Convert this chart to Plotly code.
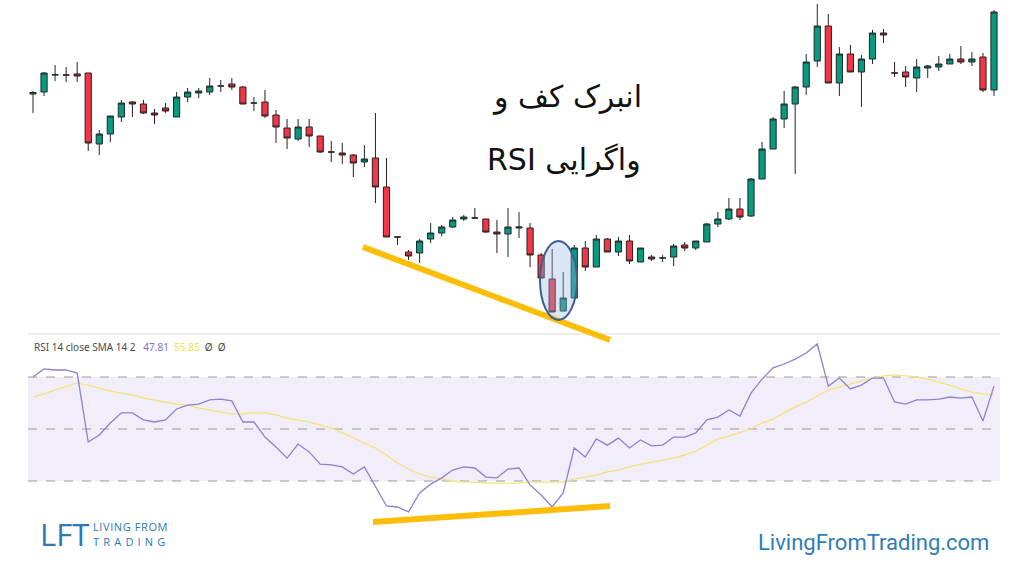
import plotly.graph_objects as go

# Candle index (one bar per session)
bars = list(range(1, 89))

price_open = [
    246, 248, 265, 265, 266, 267, 196, 206, 223, 238,
    236, 227, 232, 223, 243, 247, 248, 254, 256, 253,
    237, 238, 225, 212, 201, 213, 204, 188, 187, 185,
    178, 182, 153, 103, 88, 87, 101, 107, 113, 121,
    122, 121, 108, 106, 112, 112, 85, 61, 29, 42,
    92, 73, 101, 88, 99, 78, 83, 82, 83, 95,
    92, 98, 116, 121, 131, 124, 161, 191, 221, 236,
    253, 279, 314, 257, 286, 268, 281, 307, 267, 268,
    262, 272, 273, 276, 281, 278, 283, 250,
]
price_high = [
    249, 268, 275, 273, 278, 267, 210, 224, 240, 239,
    240, 231, 237, 248, 252, 252, 262, 260, 262, 254,
    243, 250, 230, 221, 221, 221, 204, 199, 197, 186,
    195, 227, 182, 104, 90, 101, 117, 115, 123, 125,
    132, 121, 120, 132, 128, 117, 87, 91, 68, 95,
    99, 105, 102, 103, 105, 92, 85, 85, 96, 98,
    99, 117, 128, 142, 142, 162, 198, 223, 249, 254,
    286, 336, 326, 293, 295, 285, 310, 311, 278, 274,
    281, 275, 284, 286, 294, 288, 287, 330,
]
price_low = [
    227, 244, 259, 258, 258, 189, 185, 198, 218, 223,
    226, 216, 227, 223, 238, 242, 245, 248, 250, 236,
    229, 222, 197, 191, 199, 193, 187, 178, 176, 163,
    173, 137, 103, 95, 80, 77, 97, 104, 112, 119,
    121, 107, 87, 83, 102, 73, 62, 28, 29, 42,
    69, 73, 88, 84, 76, 78, 79, 78, 74, 89,
    90, 98, 113, 120, 120, 123, 161, 191, 212, 166,
    245, 273, 257, 244, 268, 233, 276, 297, 263, 253,
    248, 262, 269, 276, 276, 274, 248, 244,
]
price_close = [
    247.5, 267, 265.3, 265, 264, 197, 206, 224, 237, 236,
    227, 225, 229, 243, 248, 249, 254, 254, 253, 236,
    237, 224, 213, 202, 213, 204, 188, 188, 185, 177,
    181, 153, 103, 103, 84, 99, 107, 113, 120, 123,
    122, 108, 106, 113, 113, 85, 62, 28, 42, 92,
    73, 101, 88, 99, 79, 92, 81, 82, 94, 92,
    99, 116, 121, 131, 123, 161, 191, 221, 236, 253,
    278, 314, 257, 286, 268, 281, 307, 305, 267, 263,
    273, 274, 276, 281, 278, 281, 250, 328,
]

# RSI(14) and its 14-period SMA
rsi = [
    70.0, 73.1, 72.7, 72.7, 71.5, 45.0, 47.7, 52.3, 56.2, 56.2,
    53.5, 52.7, 53.5, 57.7, 59.2, 59.6, 61.2, 61.5, 60.8, 52.7,
    52.7, 46.9, 43.1, 38.8, 44.2, 41.2, 36.5, 36.2, 35.4, 32.7,
    35.4, 27.7, 20.4, 20.0, 18.1, 25.4, 28.8, 31.2, 34.2, 35.4,
    35.0, 31.5, 31.2, 34.6, 35.0, 28.5, 24.6, 20.0, 25.4, 42.7,
    39.2, 46.2, 43.8, 46.5, 42.7, 45.8, 43.5, 43.8, 46.9, 46.9,
    48.5, 53.5, 54.6, 57.3, 55.0, 63.8, 69.2, 73.5, 75.0, 76.9,
    79.2, 82.7, 66.5, 69.6, 65.4, 66.9, 69.6, 69.6, 60.4, 59.6,
    61.2, 61.2, 61.5, 62.3, 61.9, 62.3, 53.1, 66.5,
]
rsi_sma = [
    62.3, 63.5, 65.0, 66.5, 67.7, 66.9, 65.8, 64.6, 63.8, 63.1,
    61.9, 61.2, 60.4, 59.6, 59.2, 58.1, 57.3, 56.5, 55.8, 55.8,
    56.2, 56.2, 55.4, 54.2, 53.5, 52.7, 51.5, 50.4, 48.5, 46.5,
    44.6, 42.7, 40.0, 36.9, 34.6, 32.7, 31.5, 30.8, 30.0, 29.6,
    29.6, 29.2, 29.2, 29.2, 29.2, 29.6, 29.6, 29.6, 29.6, 30.8,
    31.5, 32.3, 33.5, 34.2, 35.4, 36.5, 37.3, 38.1, 38.8, 40.0,
    41.5, 43.8, 46.2, 47.3, 48.8, 50.0, 52.3, 53.8, 56.2, 58.5,
    60.4, 62.7, 65.0, 66.2, 67.3, 68.5, 69.6, 70.4, 70.8, 70.4,
    70.0, 69.2, 68.1, 66.9, 65.4, 64.2, 63.5, 63.1,
]
rsi_levels = [70, 50, 30]

# Hand-drawn divergence lines (bar index, value)
price_support_x = [30.87, 53.24]
price_support_y = [93, 0]
rsi_support_x = [31.78, 53.24]
rsi_support_y = [14.2, 20.4]
# Highlight around the reversal bars
highlight_x = [46.9, 50.25]
highlight_y = [20, 99]

title_line1 = "انبرک کف و"
title_line2 = "\u202bواگرایی RSI\u202c"

W, H = 1024, 576
X_LEFT, X_RIGHT = 28 / W, 1000 / W
X_RANGE = [0.5473, 88.543]

GREEN = "#089981"
RED = "#F23645"
AMBER = "#FDBD08"

fig = go.Figure()

fig.add_trace(go.Candlestick(
    x=bars, open=price_open, high=price_high, low=price_low, close=price_close,
    xaxis="x", yaxis="y", whiskerwidth=0,
    increasing=dict(fillcolor=GREEN, line=dict(color="#1e2a28", width=1)),
    decreasing=dict(fillcolor=RED, line=dict(color="#2a1e20", width=1)),
    showlegend=False, hoverinfo="none",
))

fig.add_trace(go.Scatter(
    x=bars, y=rsi_sma, xaxis="x2", yaxis="y2", mode="lines",
    line=dict(color="#F4E27C", width=1.3), showlegend=False, hoverinfo="skip",
))
fig.add_trace(go.Scatter(
    x=bars, y=rsi, xaxis="x2", yaxis="y2", mode="lines",
    line=dict(color="#8C80D2", width=1.3), showlegend=False, hoverinfo="skip",
))

shapes = []
# RSI background band and level lines
shapes.append(dict(type="rect", xref="paper", yref="y2", x0=X_LEFT, x1=X_RIGHT,
                   y0=rsi_levels[2], y1=rsi_levels[0], fillcolor="rgba(126,87,194,0.10)",
                   line=dict(width=0), layer="below"))
for lvl in rsi_levels:
    shapes.append(dict(type="line", xref="paper", yref="y2", x0=X_LEFT, x1=X_RIGHT,
                       y0=lvl, y1=lvl, line=dict(color="#9a9a9a", width=1, dash="dash"),
                       layer="below"))
# pane separator
shapes.append(dict(type="line", xref="paper", yref="paper", x0=X_LEFT, x1=X_RIGHT,
                   y0=1 - 334 / H, y1=1 - 334 / H, line=dict(color="#ececec", width=2)))
# divergence lines
shapes.append(dict(type="line", xref="x", yref="y",
                   x0=price_support_x[0], x1=price_support_x[1],
                   y0=price_support_y[0], y1=price_support_y[1],
                   line=dict(color=AMBER, width=6)))
shapes.append(dict(type="line", xref="x2", yref="y2",
                   x0=rsi_support_x[0], x1=rsi_support_x[1],
                   y0=rsi_support_y[0], y1=rsi_support_y[1],
                   line=dict(color=AMBER, width=6)))
# highlight ellipse
shapes.append(dict(type="circle", xref="x", yref="y",
                   x0=highlight_x[0], x1=highlight_x[1],
                   y0=highlight_y[0], y1=highlight_y[1],
                   fillcolor="rgba(150,182,225,0.35)", line=dict(color="#3d5f8e", width=2),
                   layer="above"))

BLUE = "#2B79B6"
annotations = [
    dict(text=title_line1, x=567 / W, y=1 - 97 / H, xref="paper", yref="paper",
         showarrow=False, xanchor="center", yanchor="middle",
         font=dict(family="DejaVu Sans", size=30, color="#111111")),
    dict(text=title_line2, x=564 / W, y=1 - 160 / H, xref="paper", yref="paper",
         showarrow=False, xanchor="center", yanchor="middle",
         font=dict(family="DejaVu Sans", size=30, color="#111111")),
    dict(text=("RSI 14 close SMA 14 2\u00a0\u00a0\u00a0"
               "<span style='color:#7E70C8'>47.81</span>\u00a0\u00a0"
               "<span style='color:#F5DE52'>55.85</span>\u00a0\u00a0"
               "Ø\u00a0\u00a0Ø"),
         x=32 / W, y=1 - 347 / H, xref="paper", yref="paper", showarrow=False,
         xanchor="left", yanchor="middle",
         font=dict(family="Noto Sans", size=10, color="#4a4a4a")),
    dict(text="LFT", x=38 / W, y=1 - 534 / H, xref="paper", yref="paper",
         showarrow=False, xanchor="left", yanchor="middle",
         font=dict(family="Open Sans", size=31, color=BLUE)),
    dict(text="<span style='letter-spacing:0.6px'>LIVING FROM</span>",
         x=91 / W, y=1 - 526.5 / H, xref="paper", yref="paper",
         showarrow=False, xanchor="left", yanchor="middle",
         font=dict(family="Open Sans", size=11, color=BLUE)),
    dict(text="<span style='letter-spacing:4.2px'>TRADING</span>",
         x=91 / W, y=1 - 541.5 / H, xref="paper", yref="paper",
         showarrow=False, xanchor="left", yanchor="middle",
         font=dict(family="Open Sans", size=11, color=BLUE)),
    dict(text="LivingFromTrading.com", x=991 / W, y=1 - 542 / H, xref="paper", yref="paper",
         showarrow=False, xanchor="right", yanchor="middle",
         font=dict(family="Roboto", size=22, color="#2E7DB8")),
]

fig.update_layout(
    width=W, height=H,
    margin=dict(l=0, r=0, t=0, b=0),
    paper_bgcolor="white", plot_bgcolor="rgba(0,0,0,0)",
    boxgap=0.2,
    showlegend=False,
    xaxis=dict(domain=[X_LEFT, X_RIGHT], range=X_RANGE, visible=False,
               rangeslider=dict(visible=False), anchor="y"),
    yaxis=dict(domain=[1 - 350 / H, 1], range=[-10, 340], visible=False, anchor="x"),
    xaxis2=dict(domain=[X_LEFT, X_RIGHT], range=X_RANGE, visible=False, anchor="y2"),
    yaxis2=dict(domain=[0, 1 - 334 / H], range=[-6.54, 86.54], visible=False, anchor="x2"),
    shapes=shapes,
    annotations=annotations,
)

fig.write_html("out.html")
